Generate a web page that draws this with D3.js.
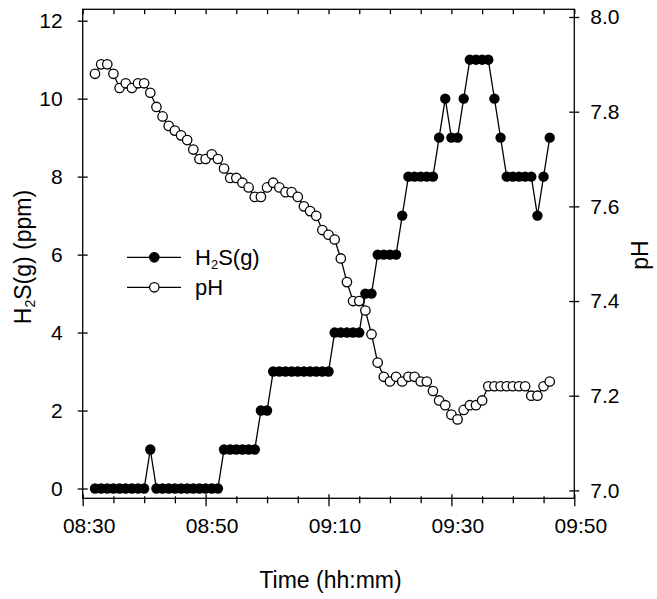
<!DOCTYPE html>
<html>
<head>
<meta charset="utf-8">
<script src="https://cdn.jsdelivr.net/npm/d3@7"></script>
<style>
  body { margin: 0; background: #fff; }
  text { font-family: Arial, "Liberation Sans", sans-serif; fill: #000; }
</style>
</head>
<body>
<div id="chart"></div>
<script>
// sample times (hh:mm)
var times = ["08:32","08:33","08:34","08:35","08:36","08:37","08:38","08:39","08:40","08:41",
  "08:42","08:43","08:44","08:45","08:46","08:47","08:48","08:49","08:50","08:51",
  "08:52","08:53","08:54","08:55","08:56","08:57","08:58","08:59","09:00","09:01",
  "09:02","09:03","09:04","09:05","09:06","09:07","09:08","09:09","09:10","09:11",
  "09:12","09:13","09:14","09:15","09:16","09:17","09:18","09:19","09:20","09:21",
  "09:22","09:23","09:24","09:25","09:26","09:27","09:28","09:29","09:30","09:31",
  "09:32","09:33","09:34","09:35","09:36","09:37","09:38","09:39","09:40","09:41",
  "09:42","09:43","09:44","09:45","09:46"];

// H2S(g) in ppm
var h2s = [0,0,0,0,0,0,0,0,0,1,
  0,0,0,0,0,0,0,0,0,0,
  0,1,1,1,1,1,1,2,2,3,
  3,3,3,3,3,3,3,3,3,4,
  4,4,4,4,5,5,6,6,6,6,
  7,8,8,8,8,8,9,10,9,9,
  10,11,11,11,11,10,9,8,8,8,
  8,8,7,8,9];

// pH
var ph = [7.88,7.90,7.90,7.88,7.85,7.86,7.85,7.86,7.86,7.84,
  7.81,7.79,7.77,7.76,7.75,7.74,7.72,7.70,7.70,7.71,
  7.70,7.68,7.66,7.66,7.65,7.64,7.62,7.62,7.64,7.65,
  7.64,7.63,7.63,7.62,7.60,7.59,7.58,7.55,7.54,7.53,
  7.49,7.44,7.40,7.40,7.38,7.33,7.27,7.24,7.23,7.24,
  7.23,7.24,7.24,7.23,7.23,7.21,7.19,7.18,7.16,7.15,
  7.17,7.18,7.18,7.19,7.22,7.22,7.22,7.22,7.22,7.22,
  7.22,7.20,7.20,7.22,7.23];

var timeTicks = ["08:30","08:50","09:10","09:30","09:50"];
var h2sTicks = [0,2,4,6,8,10,12];
var phTicks = [7.0,7.2,7.4,7.6,7.8,8.0];

var width = 657, height = 599;
var pLeft = 82.7, pRight = 574.3, pTop = 9.3, pBottom = 498.3;
var tickFont = 21, titleFont = 23, legendFont = 22;

var parse = d3.timeParse("%H:%M");
var fmt = d3.timeFormat("%H:%M");

var svg = d3.select("#chart").append("svg")
    .attr("width", width)
    .attr("height", height);

// Scales
var x = d3.scaleTime()
    .domain([parse(timeTicks[0]), parse(timeTicks[timeTicks.length - 1])])
    .range([pLeft, pRight]);
var yL = d3.scaleLinear().domain([0, 12]).range([488.5, 20.7]);
var yR = d3.scaleLinear().domain([7, 8]).range([490.4, 17]);

var data = times.map(function (t, i) {
    return { t: parse(t), h2s: h2s[i], ph: ph[i] };
});

// Frame
svg.append("rect")
    .attr("x", pLeft).attr("y", pTop)
    .attr("width", pRight - pLeft).attr("height", pBottom - pTop)
    .attr("fill", "none").attr("stroke", "#000").attr("stroke-width", 1.3);

var minorTimes = d3.timeMinute.every(5).range(x.domain()[0], d3.timeMinute.offset(x.domain()[1], 1));
function isMajor(d) { return timeTicks.indexOf(fmt(d)) >= 0; }

// Bottom axis
var gx = svg.append("g")
    .attr("transform", "translate(0," + pBottom + ")")
    .call(d3.axisBottom(x).tickValues(minorTimes).tickSize(0).tickFormat(""));
gx.select(".domain").remove();
gx.selectAll(".tick line")
    .attr("stroke-width", 1.3)
    .attr("y1", function (d) { return isMajor(d) ? -4 : -2; })
    .attr("y2", function (d) { return isMajor(d) ? 8 : 5; });
gx.selectAll(".tick")
    .filter(isMajor)
    .select("text")
    .text(function (d) { return fmt(d); })
    .attr("y", 20).attr("dy", "0.71em").attr("dx", 6)
    .style("font-size", tickFont + "px");

// Top axis (ticks inward)
var gt = svg.append("g")
    .attr("transform", "translate(0," + pTop + ")")
    .call(d3.axisBottom(x).tickValues(minorTimes).tickSize(5).tickFormat(""));
gt.select(".domain").remove();
gt.selectAll(".tick line").attr("stroke-width", 1.3);

// Left axis
var gl = svg.append("g")
    .attr("transform", "translate(" + pLeft + ",0)")
    .call(d3.axisLeft(yL).tickValues(h2sTicks).tickSize(0).tickPadding(20));
gl.select(".domain").remove();
gl.selectAll(".tick line").attr("x1", -5).attr("x2", 5).attr("stroke-width", 1.3);
gl.selectAll(".tick text").style("font-size", tickFont + "px");

// Right axis
var gr = svg.append("g")
    .attr("transform", "translate(" + pRight + ",0)")
    .call(d3.axisRight(yR).tickValues(phTicks).tickSize(0).tickPadding(16).tickFormat(d3.format(".1f")));
gr.select(".domain").remove();
gr.selectAll(".tick line").attr("x1", -5).attr("x2", 5).attr("stroke-width", 1.3);
gr.selectAll(".tick text").style("font-size", tickFont + "px");

// Axis titles
svg.append("text")
    .attr("x", (pLeft + pRight) / 2 + 2).attr("y", 588)
    .attr("text-anchor", "middle")
    .style("font-size", titleFont + "px")
    .text("Time (hh:mm)");

var yt = svg.append("text")
    .attr("transform", "translate(31,257) rotate(-90)")
    .attr("text-anchor", "middle")
    .style("font-size", titleFont + "px");
yt.append("tspan").text("H");
yt.append("tspan").attr("dy", 4).style("font-size", "14px").text("2");
yt.append("tspan").attr("dy", -4).text("S(g) (ppm)");

svg.append("text")
    .attr("transform", "translate(648,255) rotate(-90)")
    .attr("text-anchor", "middle")
    .style("font-size", titleFont + "px")
    .text("pH");

// Lines
var lineH = d3.line().x(function (d) { return x(d.t); }).y(function (d) { return yL(d.h2s); });
var lineP = d3.line().x(function (d) { return x(d.t); }).y(function (d) { return yR(d.ph); });

svg.append("path").datum(data)
    .attr("d", lineH).attr("fill", "none").attr("stroke", "#000").attr("stroke-width", 1.3);
svg.selectAll(".h2s").data(data).enter().append("circle")
    .attr("class", "h2s")
    .attr("cx", function (d) { return x(d.t); })
    .attr("cy", function (d) { return yL(d.h2s); })
    .attr("r", 5.2).attr("fill", "#000");

svg.append("path").datum(data)
    .attr("d", lineP).attr("fill", "none").attr("stroke", "#000").attr("stroke-width", 1.3);
svg.selectAll(".ph").data(data).enter().append("circle")
    .attr("class", "ph")
    .attr("cx", function (d) { return x(d.t); })
    .attr("cy", function (d) { return yR(d.ph); })
    .attr("r", 4.7).attr("fill", "#fff").attr("stroke", "#000").attr("stroke-width", 1.3);

// Legend
var legend = svg.append("g");
var items = [{ y: 257.3, fill: "#000" }, { y: 287.3, fill: "#fff" }];
items.forEach(function (it) {
    legend.append("line")
        .attr("x1", 127).attr("x2", 181).attr("y1", it.y).attr("y2", it.y)
        .attr("stroke", "#000").attr("stroke-width", 1.3);
    legend.append("circle")
        .attr("cx", 154.3).attr("cy", it.y).attr("r", 4.7)
        .attr("fill", it.fill).attr("stroke", "#000").attr("stroke-width", 1.3);
});
var l1 = legend.append("text").attr("x", 195).attr("y", 257.3).attr("dy", "0.35em")
    .style("font-size", legendFont + "px");
l1.append("tspan").text("H");
l1.append("tspan").attr("dy", 4).style("font-size", "13px").text("2");
l1.append("tspan").attr("dy", -4).text("S(g)");
legend.append("text").attr("x", 195).attr("y", 287.3).attr("dy", "0.35em")
    .style("font-size", legendFont + "px").text("pH");
</script>
</body>
</html>
